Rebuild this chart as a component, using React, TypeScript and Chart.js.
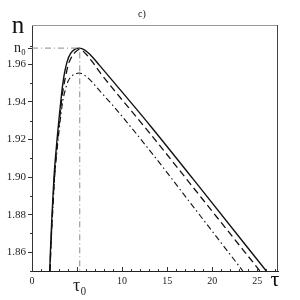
import { useEffect, useRef } from "react";
import { Chart, registerables } from "chart.js";
Chart.register(...registerables);

const TAU0 = 5.3;
const N0 = 1.9687;
const xTickValues = [0, TAU0, 10, 15, 20, 25];
const yTickValues = [1.86, 1.88, 1.9, 1.92, 1.94, 1.96, N0];

const solidTau = [1.97, 2.04, 2.22, 2.44, 2.78, 3.19, 3.4, 3.63, 3.9, 4.3, 4.8, 5.25, 5.9, 6.6, 7.5, 9.0, 13.1, 19.7, 26.0];
const solidN = [1.85, 1.86, 1.88, 1.9, 1.92, 1.94, 1.949, 1.956, 1.9615, 1.966, 1.9682, 1.9687, 1.9675, 1.9645, 1.9595, 1.951, 1.9275, 1.888, 1.85];

const dashedTau = [2.0, 2.07, 2.26, 2.49, 2.84, 3.27, 3.5, 3.75, 4.0, 4.4, 4.85, 5.3, 5.9, 6.6, 7.5, 9.0, 13.1, 19.0, 25.3];
const dashedN = [1.85, 1.86, 1.88, 1.9, 1.92, 1.94, 1.948, 1.954, 1.9595, 1.964, 1.9668, 1.968, 1.966, 1.962, 1.956, 1.947, 1.9232, 1.8878, 1.85];

const dashDotTau = [2.0, 2.08, 2.28, 2.52, 2.9, 3.4, 3.7, 4.0, 4.5, 5.3, 5.9, 6.6, 7.5, 9.0, 13.1, 18.0, 23.4];
const dashDotN = [1.85, 1.86, 1.88, 1.9, 1.92, 1.94, 1.9465, 1.951, 1.9542, 1.9554, 1.954, 1.951, 1.946, 1.938, 1.914, 1.8836, 1.85];

const refTau = [0, TAU0, TAU0];
const refN = [N0, N0, 1.85];

const FAMILY = "'Liberation Serif', 'DejaVu Serif', serif";

const zip = (xs: number[], ys: number[]) => xs.map((x, i) => ({ x, y: ys[i] }));

const decorPlugin = {
  id: "decor",
  afterDraw(chart: any) {
    const ctx = chart.ctx as CanvasRenderingContext2D;
    const { left, right, top, bottom } = chart.chartArea;
    const xs = chart.scales.x;
    const ys = chart.scales.y;
    ctx.save();
    ctx.lineWidth = 1;
    ctx.strokeStyle = "#999";
    ctx.beginPath();
    ctx.moveTo(left, top + 0.5);
    ctx.lineTo(right, top + 0.5);
    ctx.stroke();
    ctx.strokeStyle = "#444";
    ctx.beginPath();
    ctx.moveTo(right - 0.5, top);
    ctx.lineTo(right - 0.5, bottom);
    ctx.stroke();
    ctx.strokeStyle = "#333";
    for (let v = 0; v <= 27; v++) {
      const px = Math.round(xs.getPixelForValue(v)) + 0.5;
      const len = v % 5 === 0 ? 4 : 2;
      ctx.beginPath();
      ctx.moveTo(px, bottom);
      ctx.lineTo(px, bottom - len);
      ctx.stroke();
    }
    for (let k = 0; k < 13; k++) {
      if (k % 2 === 1) continue;
      const v = 1.85 + k * 0.01;
      const py = Math.round(ys.getPixelForValue(v)) + 0.5;
      ctx.beginPath();
      ctx.moveTo(left, py);
      ctx.lineTo(left - 2, py);
      ctx.stroke();
    }
    ctx.fillStyle = "#111";
    ctx.textAlign = "center";
    ctx.textBaseline = "middle";
    ctx.font = `25px ${FAMILY}`;
    ctx.fillText("n", 18, 26);
    ctx.font = `22px ${FAMILY}`;
    ctx.fillText("τ", 275, 280);
    ctx.font = `10px ${FAMILY}`;
    ctx.fillText("c)", 142, 14);
    ctx.restore();
  },
};

export default function App() {
  const ref = useRef<HTMLCanvasElement | null>(null);
  useEffect(() => {
    if (!ref.current) return;
    const chart = new Chart(ref.current, {
      type: "line",
      data: {
        datasets: [
          {
            data: zip(refTau, refN),
            borderColor: "#8a8a8a",
            borderWidth: 1,
            borderDash: [6, 3, 1, 3],
            pointRadius: 0,
            tension: 0,
          },
          {
            data: zip(solidTau, solidN),
            borderColor: "#111",
            borderWidth: 1.4,
            pointRadius: 0,
            cubicInterpolationMode: "monotone",
          },
          {
            data: zip(dashedTau, dashedN),
            borderColor: "#111",
            borderWidth: 1.3,
            borderDash: [7, 4],
            pointRadius: 0,
            cubicInterpolationMode: "monotone",
          },
          {
            data: zip(dashDotTau, dashDotN),
            borderColor: "#111",
            borderWidth: 1.1,
            borderDash: [6, 3, 1.5, 3],
            pointRadius: 0,
            cubicInterpolationMode: "monotone",
          },
        ],
      },
      options: {
        responsive: false,
        animation: false,
        layout: { padding: { top: 25, right: 22, left: 0, bottom: 0 } },
        plugins: { legend: { display: false }, tooltip: { enabled: false }, title: { display: false } },
        scales: {
          x: {
            type: "linear",
            min: 0,
            max: 27.3,
            afterFit: (s: any) => {
              s.height = 29;
            },
            afterBuildTicks: (s: any) => {
              s.ticks = xTickValues.map((v) => ({ value: v }));
            },
            grid: { drawOnChartArea: false, drawTicks: false },
            border: { display: true, color: "#222", width: 1 },
            ticks: {
              padding: 4,
              color: "#222",
              maxRotation: 0,
              autoSkip: false,
              font: (c: any) =>
                c.tick && Math.abs(c.tick.value - TAU0) < 1e-6
                  ? { size: 18, family: FAMILY }
                  : { size: 10, family: FAMILY },
              callback: (v: any) => (Math.abs(v - TAU0) < 1e-6 ? "τ₀" : String(v)),
            },
          },
          y: {
            type: "linear",
            min: 1.85,
            max: 1.981,
            afterFit: (s: any) => {
              s.width = 32;
            },
            afterBuildTicks: (s: any) => {
              s.ticks = yTickValues.map((v) => ({ value: v }));
            },
            grid: { drawOnChartArea: false, drawTicks: true, tickLength: 4, color: "#333" },
            border: { display: true, color: "#333", width: 1 },
            ticks: {
              padding: 2,
              color: "#222",
              autoSkip: false,
              font: (c: any) =>
                c.tick && Math.abs(c.tick.value - N0) < 1e-6
                  ? { size: 14, family: FAMILY }
                  : { size: 11, family: FAMILY },
              callback: (v: any) => (Math.abs(v - N0) < 1e-6 ? "n₀" : Number(v).toFixed(2)),
            },
          },
        },
      },
      plugins: [decorPlugin],
    } as any);
    return () => chart.destroy();
  }, []);
  return (
    <div style={{ position: "absolute", left: 0, top: 0, width: 300, height: 300 }}>
      <canvas ref={ref} width={300} height={300} style={{ display: "block" }} />
    </div>
  );
}
